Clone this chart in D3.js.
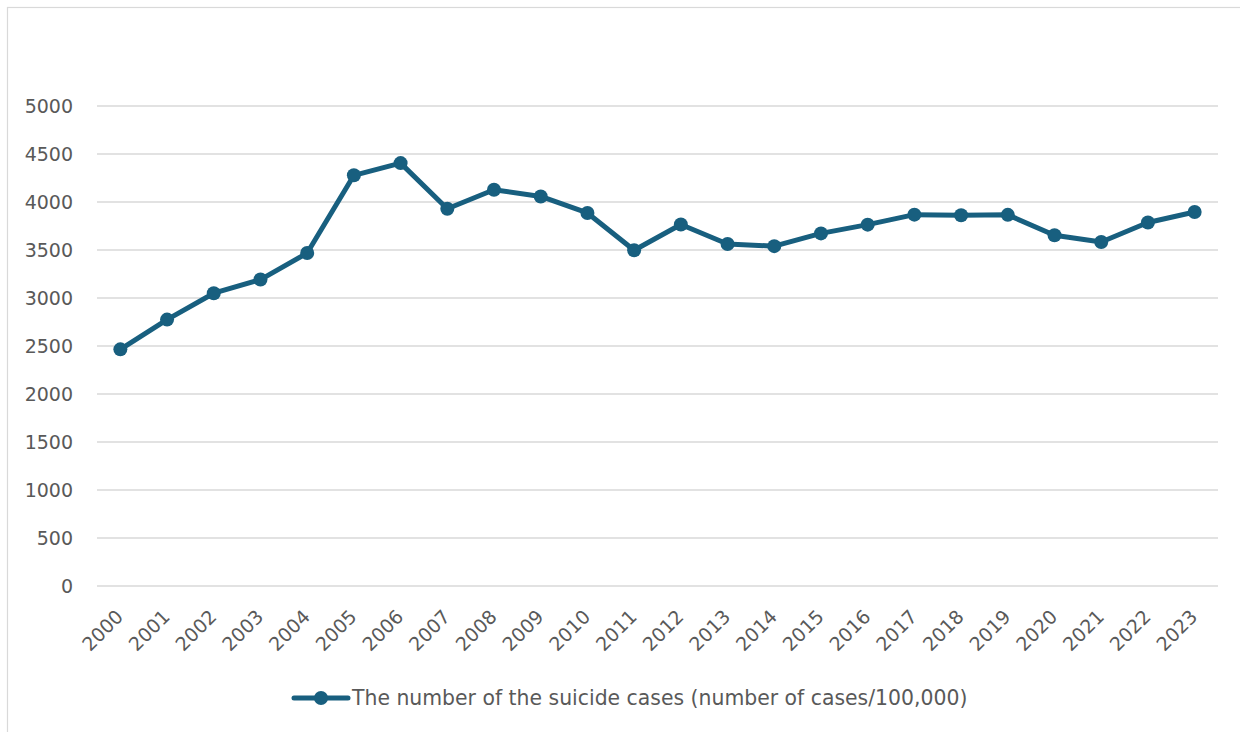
<!DOCTYPE html>
<html>
<head>
<meta charset="utf-8">
<script src="https://cdn.jsdelivr.net/npm/d3@7"></script>
<style>
  html, body { margin: 0; padding: 0; background: #ffffff; }
  svg { display: block; }
</style>
</head>
<body>
<svg id="chart" width="1240" height="732"></svg>
<script>
// Annual suicide cases, 2000–2023
const years = ["2000","2001","2002","2003","2004","2005","2006","2007","2008","2009","2010","2011",
               "2012","2013","2014","2015","2016","2017","2018","2019","2020","2021","2022","2023"];
const cases = [2465, 2775, 3050, 3192, 3468, 4278, 4405, 3930, 4128, 4058, 3886, 3498,
               3765, 3562, 3540, 3673, 3764, 3868, 3862, 3866, 3653, 3584, 3786, 3896];
const yTicks = [0, 500, 1000, 1500, 2000, 2500, 3000, 3500, 4000, 4500, 5000];
const seriesName = "The number of the suicide cases (number of cases/100,000)";

const svg = d3.select("#chart");
const W = 1240, H = 732;
const plot = { left: 97, right: 1218, top: 106, bottom: 586 };
const textColor = "#595959";
const lineColor = "#185f7f";
const gridColor = "#d9d9d9";
const fontFamily = "'DejaVu Sans', sans-serif";

// outer chart frame
svg.append("rect")
  .attr("x", 7.5).attr("y", 7.5)
  .attr("width", W).attr("height", H)
  .attr("fill", "#ffffff")
  .attr("stroke", "#d9d9d9").attr("stroke-width", 1.2);

const x = d3.scaleBand().domain(years).range([plot.left, plot.right]);
const y = d3.scaleLinear().domain([0, 5000]).range([plot.bottom, plot.top]);

// horizontal gridlines
svg.append("g")
  .selectAll("line")
  .data(yTicks)
  .join("line")
  .attr("x1", plot.left).attr("x2", plot.right)
  .attr("y1", d => y(d)).attr("y2", d => y(d))
  .attr("stroke", gridColor).attr("stroke-width", 1.5);

// y axis labels
const yAxis = svg.append("g")
  .attr("transform", `translate(${plot.left - 24},0)`)
  .call(d3.axisLeft(y).tickValues(yTicks).tickFormat(d3.format("d")).tickSize(0).tickPadding(0));
yAxis.select(".domain").remove();
yAxis.selectAll("text")
  .attr("fill", textColor)
  .style("font-family", fontFamily)
  .style("font-size", "19px")
  .attr("dy", "0.36em");

// x axis labels, rotated
const xAxis = svg.append("g")
  .attr("transform", `translate(0,${plot.bottom})`)
  .call(d3.axisBottom(x).tickSize(0).tickPadding(0));
xAxis.select(".domain").remove();
xAxis.selectAll("text")
  .attr("fill", textColor)
  .style("font-family", fontFamily)
  .style("font-size", "19px")
  .attr("text-anchor", "end")
  .attr("dy", "0")
  .attr("transform", "translate(4,32) rotate(-45)");

// series line
const cx = d => x(d) + x.bandwidth() / 2;
const line = d3.line()
  .x((d, i) => cx(years[i]))
  .y(d => y(d));

svg.append("path")
  .datum(cases)
  .attr("d", line)
  .attr("fill", "none")
  .attr("stroke", lineColor)
  .attr("stroke-width", 5)
  .attr("stroke-linejoin", "round");

svg.append("g")
  .selectAll("circle")
  .data(cases)
  .join("circle")
  .attr("cx", (d, i) => cx(years[i]))
  .attr("cy", d => y(d))
  .attr("r", 7)
  .attr("fill", lineColor);

// legend
const legend = svg.append("g").attr("transform", "translate(294,698)");
legend.append("line")
  .attr("x1", 0).attr("x2", 54)
  .attr("stroke", lineColor).attr("stroke-width", 5)
  .attr("stroke-linecap", "round");
legend.append("circle")
  .attr("cx", 27).attr("r", 7).attr("fill", lineColor);
legend.append("text")
  .attr("x", 58).attr("dy", "0.36em")
  .attr("fill", textColor)
  .style("font-family", fontFamily)
  .style("font-size", "20.4px")
  .text(seriesName);
</script>
</body>
</html>
